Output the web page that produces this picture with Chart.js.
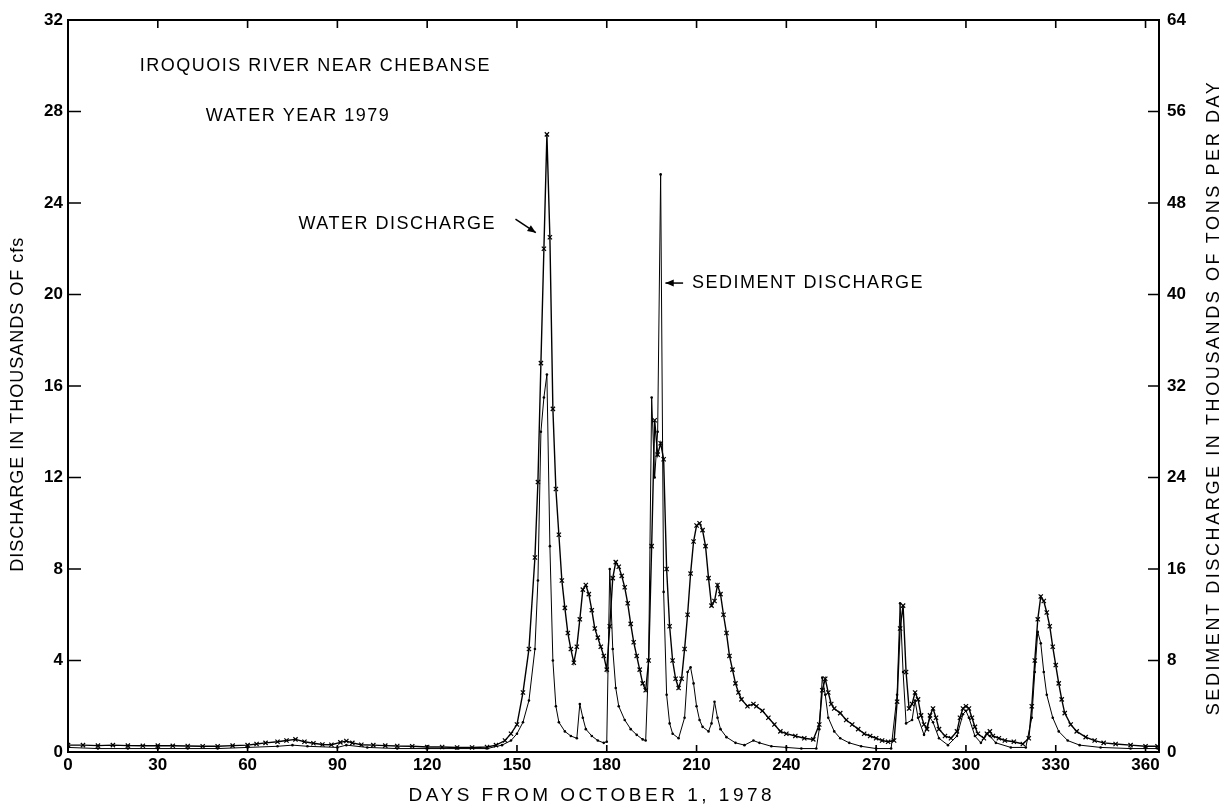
<!DOCTYPE html>
<html>
<head>
<meta charset="utf-8">
<title>Iroquois River near Chebanse, water year 1979</title>
<script src="https://cdn.jsdelivr.net/npm/chart.js@4.4.1/dist/chart.umd.min.js"></script>
<style>
    html, body { margin: 0; padding: 0; background: #fff; }
    #wrap { width: 1229px; height: 812px; }
</style>
</head>
<body>
<div id="wrap"><canvas id="chart" width="1229" height="812"></canvas></div>
<script>
/* ===== Data ===== */
var xTicks = [0, 30, 60, 90, 120, 150, 180, 210, 240, 270, 300, 330, 360];
var leftTicks = [0, 4, 8, 12, 16, 20, 24, 28, 32];
var rightTicks = [0, 8, 16, 24, 32, 40, 48, 56, 64];

// water discharge, thousands of cfs (left axis)
var waterDays = [0, 5, 10, 15, 20, 25, 30, 35, 40, 45, 50, 55, 60, 63, 66, 70, 73, 76, 79, 82, 85, 88, 91, 93, 95, 98,
    102, 106, 110, 115, 120, 125, 130, 135, 140, 143, 146, 148, 150, 152, 154, 156, 157, 158, 159, 160, 161, 162, 163,
    164, 165, 166, 167, 168, 169, 170, 171, 172, 173, 174, 175, 176, 177, 178, 179, 180, 181, 182, 183, 184, 185, 186,
    187, 188, 189, 190, 191, 192, 193, 194, 195, 196, 197, 198, 199, 200, 201, 202, 203, 204, 205, 206, 207, 208, 209,
    210, 211, 212, 213, 214, 215, 216, 217, 218, 219, 220, 221, 222, 223, 224, 225, 227, 229, 230, 232, 234, 236, 238,
    240, 243, 246, 249, 251, 252, 253, 254, 255, 256, 258, 260, 262, 264, 266, 268, 270, 272, 274, 276, 277, 278, 279,
    280, 281, 282, 283, 284, 285, 286, 287, 288, 289, 290, 291, 293, 295, 297, 298, 299, 300, 301, 302, 303, 304, 306,
    307, 308, 309, 311, 313, 316, 319, 321, 322, 323, 324, 325, 326, 327, 328, 329, 330, 331, 332, 333, 335, 337, 340,
    343, 346, 350, 355, 360, 364];
var waterValues = [0.3, 0.3, 0.28, 0.3, 0.28, 0.27, 0.28, 0.27, 0.26, 0.25, 0.25, 0.28, 0.3, 0.35, 0.4, 0.45, 0.5, 0.55, 0.45, 0.38, 0.33, 0.32, 0.42, 0.48, 0.4, 0.32,
    0.3, 0.28, 0.26, 0.25, 0.22, 0.22, 0.2, 0.2, 0.22, 0.3, 0.5, 0.8, 1.2, 2.6, 4.5, 8.5, 11.8, 17, 22, 27, 22.5, 15, 11.5,
    9.5, 7.5, 6.3, 5.2, 4.5, 3.9, 4.6, 5.8, 7.1, 7.3, 6.9, 6.2, 5.4, 5, 4.6, 4.2, 3.6, 5.5, 7.6, 8.3, 8.1, 7.7, 7.2,
    6.5, 5.6, 4.8, 4.2, 3.6, 3.0, 2.7, 4, 9, 14.5, 13, 13.5, 12.8, 8, 5.5, 4, 3.2, 2.8, 3.2, 4.5, 6, 7.8, 9.2,
    9.9, 10, 9.7, 9, 7.6, 6.4, 6.6, 7.3, 6.9, 6, 5.2, 4.2, 3.6, 3, 2.6, 2.3, 2, 2.1, 2.0, 1.8, 1.5, 1.2, 0.9,
    0.8, 0.7, 0.6, 0.55, 1.2, 2.7, 3.2, 2.6, 2.1, 1.9, 1.7, 1.4, 1.2, 1.0, 0.8, 0.7, 0.6, 0.5, 0.45, 0.5, 2.2, 5.4, 6.4,
    3.5, 1.9, 2.1, 2.6, 2.3, 1.6, 1.2, 1.0, 1.6, 1.9, 1.5, 1.0, 0.7, 0.6, 0.9, 1.5, 1.9, 2.0, 1.9, 1.5, 1.1, 0.8, 0.6,
    0.8, 0.9, 0.7, 0.6, 0.5, 0.45, 0.35, 0.6, 2.0, 4, 5.8, 6.8, 6.6, 6.1, 5.5, 4.6, 3.8, 3.0, 2.3, 1.7, 1.2, 0.9, 0.65,
    0.5, 0.4, 0.35, 0.3, 0.25, 0.25];

// sediment discharge, thousands of tons per day (right axis)
var sedDays = [0, 10, 20, 30, 40, 50, 60, 70, 75, 80, 90, 93, 100, 110, 120, 130, 140, 145, 148, 150, 152, 154, 156,
    157, 158, 159, 160, 161, 162, 163, 164, 166, 168, 170, 171, 172, 173, 175, 177, 179, 180, 181, 182, 183, 184, 186,
    188, 190, 192, 193, 194, 195, 196, 197, 198, 199, 200, 201, 202, 204, 206, 207, 208, 209, 210, 211, 212, 214, 215,
    216, 217, 218, 220, 223, 226, 229, 231, 235, 240, 245, 250, 251, 252, 253, 254, 256, 258, 261, 265, 270, 275, 277,
    278, 279, 280, 282, 283, 284, 286, 288, 289, 291, 294, 297, 299, 300, 301, 303, 305, 307, 308, 310, 315, 320, 322,
    323, 324, 325, 326, 327, 329, 331, 334, 338, 345, 355, 364];
var sedValues = [0.4, 0.3, 0.3, 0.3, 0.3, 0.3, 0.4, 0.5, 0.6, 0.5, 0.4, 0.6, 0.4, 0.3, 0.3, 0.3, 0.3, 0.6, 1, 1.6, 2.6, 4.5, 9,
    15, 28, 31, 33, 18, 8, 4, 2.6, 1.8, 1.4, 1.2, 4.2, 3, 2, 1.4, 1.0, 0.8, 0.9, 16, 9, 5.6, 4, 2.8,
    2, 1.5, 1.1, 1.0, 8, 31, 24, 28, 50.5, 14, 5, 2.5, 1.6, 1.2, 3, 7, 7.4, 6, 4, 2.8, 2.2, 1.8, 2.5,
    4.4, 3, 2, 1.3, 0.8, 0.6, 1.0, 0.8, 0.5, 0.4, 0.3, 0.3, 2, 6.5, 5, 3, 1.8, 1.2, 0.8, 0.5, 0.3, 0.3, 5,
    13, 7, 2.5, 2.8, 4.5, 3, 1.5, 3, 2.6, 1.2, 0.6, 1.4, 3.3, 3.6, 3, 1.4, 0.8, 1.6, 1.4, 0.8, 0.4, 0.4, 3,
    7, 10.5, 9.5, 7, 5, 3, 1.8, 1, 0.6, 0.4, 0.3, 0.3];

function toPoints(xs, ys) {
    var pts = [];
    for (var i = 0; i < xs.length; i++) pts.push({ x: xs[i], y: ys[i] });
    return pts;
}

var FONT = "'Liberation Sans', Arial, Helvetica, sans-serif";

/* --- text labels inside the plot, placed in data units (day, left-axis value) --- */
var notes = [
    { text: "IROQUOIS RIVER NEAR CHEBANSE", day: 24, val: 30.0 },
    { text: "WATER YEAR 1979", day: 46, val: 27.8 },
    { text: "WATER DISCHARGE", day: 77, val: 23.1 },
    { text: "SEDIMENT DISCHARGE", day: 208.5, val: 20.5 }
];
var arrows = [
    { from: [149.5, 23.3], to: [156.3, 22.7] },
    { from: [205.5, 20.5], to: [199.6, 20.5] }
];

function spacedText(ctx, text, x, y, spacing) {
    if ("letterSpacing" in ctx) {
        ctx.letterSpacing = spacing + "px";
        ctx.fillText(text, x, y);
        ctx.letterSpacing = "0px";
    } else {
        ctx.fillText(text, x, y);
    }
}

/* --- frame, inward tick marks, notes, axis titles --- */
var decorPlugin = {
    id: "decor",
    afterDatasetsDraw: function (chart) {
        var ctx = chart.ctx;
        var a = chart.chartArea;
        var sx = chart.scales.x, sy = chart.scales.y, sy2 = chart.scales.y2;
        var i, p;

        ctx.save();
        ctx.strokeStyle = "#000";
        ctx.lineWidth = 2;
        ctx.strokeRect(a.left, a.top, a.right - a.left, a.bottom - a.top);

        ctx.lineWidth = 1.6;
        ctx.beginPath();
        for (i = 0; i < leftTicks.length; i++) {
            p = sy.getPixelForValue(leftTicks[i]);
            ctx.moveTo(a.left, p); ctx.lineTo(a.left + 13, p);
        }
        for (i = 0; i < rightTicks.length; i++) {
            p = sy2.getPixelForValue(rightTicks[i]);
            ctx.moveTo(a.right - 11, p); ctx.lineTo(a.right, p);
        }
        for (i = 1; i < xTicks.length; i++) {
            p = sx.getPixelForValue(xTicks[i]);
            ctx.moveTo(p, a.bottom); ctx.lineTo(p, a.bottom - 7);
            ctx.moveTo(p, a.top); ctx.lineTo(p, a.top + 8);
        }
        ctx.stroke();

        ctx.fillStyle = "#000";
        ctx.font = "18px " + FONT;
        ctx.textBaseline = "middle";
        ctx.textAlign = "left";
        for (i = 0; i < notes.length; i++) {
            spacedText(ctx, notes[i].text, sx.getPixelForValue(notes[i].day), sy.getPixelForValue(notes[i].val), 1.5);
        }

        // arrows
        ctx.lineWidth = 1.5;
        for (i = 0; i < arrows.length; i++) {
            var x1 = sx.getPixelForValue(arrows[i].from[0]), y1 = sy.getPixelForValue(arrows[i].from[1]);
            var x2 = sx.getPixelForValue(arrows[i].to[0]), y2 = sy.getPixelForValue(arrows[i].to[1]);
            var ang = Math.atan2(y2 - y1, x2 - x1);
            ctx.beginPath();
            ctx.moveTo(x1, y1); ctx.lineTo(x2, y2);
            ctx.stroke();
            ctx.beginPath();
            ctx.moveTo(x2, y2);
            ctx.lineTo(x2 - 9 * Math.cos(ang - 0.4), y2 - 9 * Math.sin(ang - 0.4));
            ctx.lineTo(x2 - 9 * Math.cos(ang + 0.4), y2 - 9 * Math.sin(ang + 0.4));
            ctx.closePath();
            ctx.fill();
        }

        // axis titles
        ctx.textAlign = "center";
        ctx.font = "19px " + FONT;
        spacedText(ctx, "DAYS FROM OCTOBER 1, 1978", sx.getPixelForValue(175), 796, 3.5);

        ctx.font = "18px " + FONT;
        ctx.save();
        ctx.translate(18, sy.getPixelForValue(15.2));
        ctx.rotate(-Math.PI / 2);
        spacedText(ctx, "DISCHARGE IN THOUSANDS OF cfs", 0, 0, 1);
        ctx.restore();

        ctx.save();
        ctx.translate(1214, sy2.getPixelForValue(31));
        ctx.rotate(-Math.PI / 2);
        spacedText(ctx, "SEDIMENT DISCHARGE IN THOUSANDS OF TONS PER DAY", 0, 0, 2.6);
        ctx.restore();

        ctx.restore();
    }
};

function fixedTicks(list) {
    return function (scale) {
        scale.ticks = list.map(function (v) { return { value: v }; });
    };
}

var tickFont = { family: FONT, size: 17, weight: "bold" };

new Chart(document.getElementById("chart"), {
    type: "line",
    data: {
        datasets: [
            {
                label: "Water discharge",
                data: toPoints(waterDays, waterValues),
                yAxisID: "y",
                borderColor: "#000",
                borderWidth: 1.4,
                pointStyle: "crossRot",
                pointRadius: 3,
                pointBorderWidth: 1.2,
                pointBorderColor: "#000",
                tension: 0
            },
            {
                label: "Sediment discharge",
                data: toPoints(sedDays, sedValues),
                yAxisID: "y2",
                borderColor: "#000",
                borderWidth: 1,
                pointStyle: "circle",
                pointRadius: 1.3,
                pointBackgroundColor: "#000",
                pointBorderWidth: 0,
                tension: 0
            }
        ]
    },
    options: {
        responsive: false,
        animation: false,
        devicePixelRatio: 1,
        layout: { padding: { top: 20, left: 0, right: 0, bottom: 0 } },
        plugins: { legend: { display: false }, tooltip: { enabled: false } },
        scales: {
            x: {
                type: "linear",
                position: "bottom",
                min: 0,
                max: 364.5,
                afterBuildTicks: fixedTicks(xTicks),
                afterFit: function (s) { s.height = 60; },
                ticks: { color: "#000", font: tickFont, padding: 3, maxRotation: 0 },
                grid: { drawOnChartArea: false, drawTicks: false },
                border: { display: false }
            },
            y: {
                type: "linear",
                position: "left",
                min: 0,
                max: 32,
                afterBuildTicks: fixedTicks(leftTicks),
                afterFit: function (s) { s.width = 68; },
                ticks: { color: "#000", font: tickFont, padding: 5 },
                grid: { drawOnChartArea: false, drawTicks: false },
                border: { display: false }
            },
            y2: {
                type: "linear",
                position: "right",
                min: 0,
                max: 64,
                afterBuildTicks: fixedTicks(rightTicks),
                afterFit: function (s) { s.width = 70; },
                ticks: { color: "#000", font: tickFont, padding: 8 },
                grid: { drawOnChartArea: false, drawTicks: false },
                border: { display: false }
            }
        }
    },
    plugins: [decorPlugin]
});
</script>
</body>
</html>
